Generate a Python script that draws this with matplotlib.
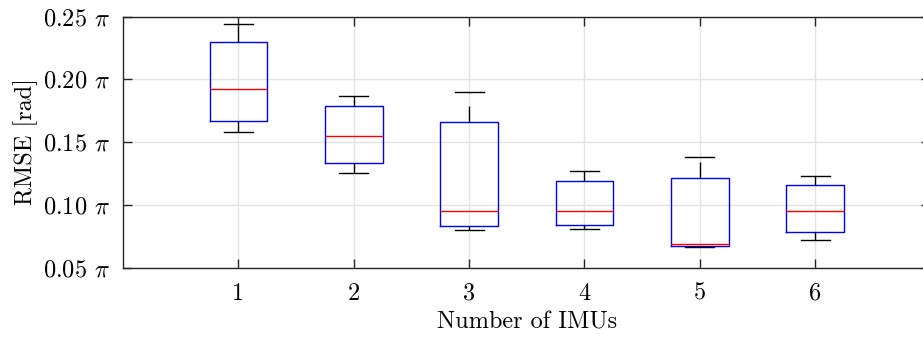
import matplotlib
matplotlib.use("Agg")
import matplotlib.pyplot as plt

# MATLAB-ish look with Computer Modern text
plt.rcParams.update({
    "font.family": "serif",
    "font.serif": ["cmr10"],
    "mathtext.fontset": "cm",
    "axes.formatter.use_mathtext": True,
    "font.size": 17.5,
})

n_imus = [1, 2, 3, 4, 5, 6]
whisker_low = [0.158, 0.125, 0.080, 0.081, 0.066, 0.072]
quart_low = [0.167, 0.133, 0.083, 0.084, 0.067, 0.078]
medians = [0.192, 0.155, 0.095, 0.095, 0.069, 0.095]
quart_high = [0.230, 0.179, 0.166, 0.119, 0.121, 0.116]
whisker_high = [0.244, 0.187, 0.190, 0.127, 0.138, 0.123]
y_ticks = [0.05, 0.10, 0.15, 0.20, 0.25]

SPINE = "#262626"
GRID = "#e3e3e3"
FS = 17.5

stats = [
    {"whislo": lo, "q1": a, "med": m, "q3": b, "whishi": hi, "fliers": []}
    for lo, a, m, b, hi in zip(whisker_low, quart_low, medians, quart_high, whisker_high)
]

fig = plt.figure(figsize=(9.23, 3.39), dpi=100)
ax = fig.add_axes([0.1333, 0.2109, 0.8748, 0.7404])

ax.bxp(
    stats,
    positions=n_imus,
    widths=0.5,
    boxprops=dict(color="blue", linewidth=1.0),
    medianprops=dict(color="red", linewidth=1.0),
    whiskerprops=dict(color="black", linewidth=1.0, linestyle=(0, (11.5, 9.5))),
    capprops=dict(color="black", linewidth=1.0),
    manage_ticks=False,
)

ax.set_xlim(0, 7)
ax.set_ylim(0.05, 0.25)
ax.set_xticks(n_imus)
ax.set_xticklabels([str(n) for n in n_imus])
ax.set_yticks(y_ticks)
ax.set_yticklabels([f"{v:.2f} $\\pi$" for v in y_ticks])

ax.grid(True, color=GRID, linewidth=1.0)
ax.set_axisbelow(True)
for s in ax.spines.values():
    s.set_color(SPINE)
    s.set_linewidth(1.0)
ax.tick_params(direction="in", length=6.5, width=1.0, color=SPINE,
               top=True, right=True, labelsize=FS)
ax.tick_params(axis="x", pad=11)
ax.tick_params(axis="y", pad=9)

ax.set_xlabel("Number of IMUs", fontsize=FS, labelpad=5)
ax.set_ylabel("RMSE [rad]", fontsize=FS, labelpad=4)

fig.savefig("out.png", dpi=100)
